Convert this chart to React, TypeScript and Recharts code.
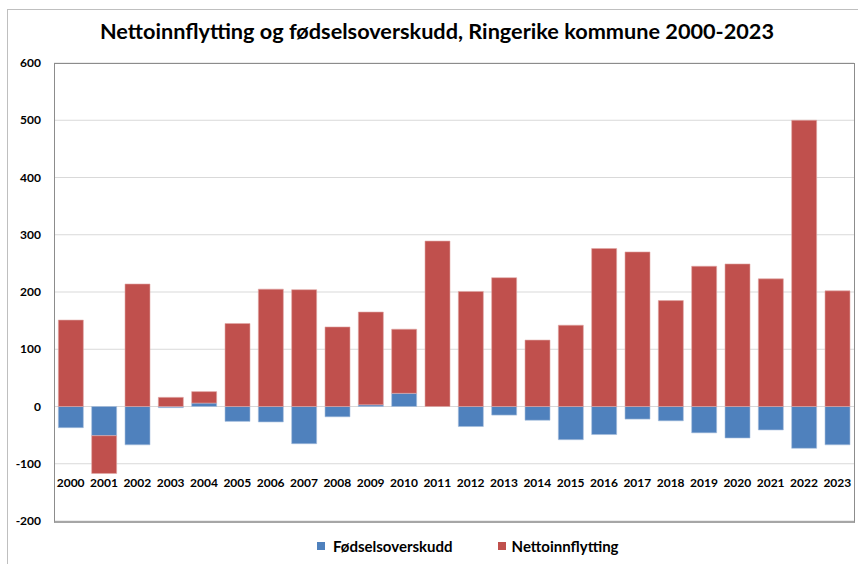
import React from 'react';
import { BarChart, Bar, XAxis, YAxis, CartesianGrid } from 'recharts';

const years = [
  '2000', '2001', '2002', '2003', '2004', '2005', '2006', '2007', '2008', '2009', '2010', '2011',
  '2012', '2013', '2014', '2015', '2016', '2017', '2018', '2019', '2020', '2021', '2022', '2023'
];
const fodselsoverskudd = [
  -37, -51, -67, -2, 6, -26, -27, -65, -18, 3, 23, 0,
  -35, -15, -24, -58, -49, -22, -25, -46, -55, -41, -73, -67
];
const nettoinnflytting = [
  151, -66, 214, 16, 20, 145, 205, 204, 139, 162, 112, 289,
  201, 225, 116, 142, 276, 270, 185, 245, 249, 223, 500, 202
];
const yTicks = [-200, -100, 0, 100, 200, 300, 400, 500, 600];

const BLUE = '#4F81BD';
const RED = '#C0504D';
const FONT = 'Lato, "Open Sans", sans-serif';

const data = years.map((y, i) => ({
  year: y,
  fodsel: fodselsoverskudd[i],
  netto: nettoinnflytting[i]
}));

const YTick = (props: any) => {
  const { y, payload } = props;
  return (
    <text x={41} y={y} dy={4} textAnchor="end" fontFamily={FONT} fontWeight={700} fontSize={12} fill="#000">
      {payload.value}
    </text>
  );
};

// Excel puts the year labels just under -100, not at the bottom of the plot
const XTick = (props: any) => {
  const { x, payload } = props;
  return (
    <text x={x} y={487} textAnchor="middle" fontFamily={FONT} fontWeight={700} fontSize={12} fill="#000">
      {payload.value}
    </text>
  );
};

const LegendBox = () => (
  <div
    style={{
      position: 'absolute', left: 0, top: 537, width: 858, display: 'flex',
      fontFamily: FONT, fontWeight: 700, fontSize: 15, color: '#000'
    }}
  >
    <div style={{ display: 'flex', alignItems: 'center', marginLeft: 317 }}>
      <span style={{ width: 8, height: 8, background: BLUE, display: 'inline-block', marginRight: 8 }} />
      Fødselsoverskudd
    </div>
    <div style={{ display: 'flex', alignItems: 'center', marginLeft: 45 }}>
      <span style={{ width: 8, height: 8, background: RED, display: 'inline-block', marginRight: 6 }} />
      Nettoinnflytting
    </div>
  </div>
);

export default function App() {
  return (
    <div style={{ position: 'fixed', left: 0, top: 0, width: 858, height: 564, overflow: 'hidden', background: '#fff' }}>
      <div style={{ position: 'absolute', left: 7, top: 9, width: 900, height: 600, border: '1px solid #bfbfbf' }} />
      <div
        style={{
          position: 'absolute', left: 0, top: 18, width: 874, textAlign: 'center',
          fontFamily: FONT, fontWeight: 700, fontSize: 21.7, color: '#000'
        }}
      >
        Nettoinnflytting og fødselsoverskudd, Ringerike kommune 2000-2023
      </div>
      <div style={{ position: 'absolute', left: 0, top: 0 }}>
        <BarChart
          width={858}
          height={564}
          data={data}
          stackOffset="sign"
          barCategoryGap="13%"
          margin={{ top: 63, right: 4, bottom: 0, left: 0 }}
        >
          <CartesianGrid horizontal vertical={false} stroke="#d9d9d9" />
          <XAxis dataKey="year" height={43} axisLine={false} tickLine={false} tick={<XTick />} interval={0} />
          <YAxis
            width={54}
            domain={[-200, 600]}
            ticks={yTicks}
            axisLine={false}
            tickLine={false}
            tick={<YTick />}
          />
          <Bar dataKey="fodsel" name="Fødselsoverskudd" stackId="a" fill={BLUE} stroke="#a7c0de" strokeWidth={0.6} isAnimationActive={false} />
          <Bar dataKey="netto" name="Nettoinnflytting" stackId="a" fill={RED} stroke="#e0a8a6" strokeWidth={0.6} isAnimationActive={false} />
        </BarChart>
      </div>
      <div
        style={{
          position: 'absolute', left: 54, top: 63, width: 799, height: 457,
          borderTop: '1px solid #8c8c8c', borderLeft: '1px solid #8c8c8c', borderRight: '1px solid #8c8c8c',
          borderBottom: '2px solid #a6a6a6', pointerEvents: 'none'
        }}
      />
      <LegendBox />
    </div>
  );
}
